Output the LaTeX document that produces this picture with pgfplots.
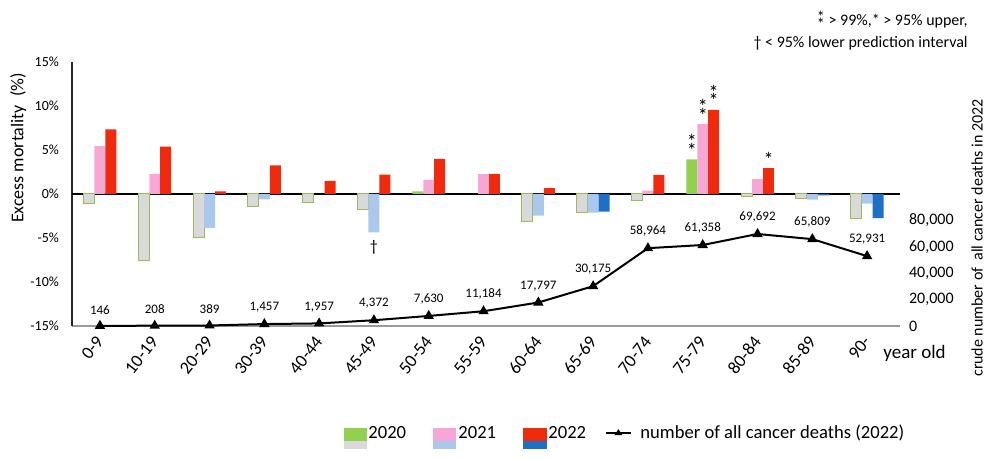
\documentclass[border=0pt]{standalone}
\usepackage{fontspec}
\setmainfont{Carlito}
\usepackage{pgfplots}
\pgfplotsset{compat=1.18}
\definecolor{cgreen}{HTML}{92D050}
\definecolor{cgray}{HTML}{D9D9D9}
\definecolor{cgrayedge}{HTML}{9BBB59}
\definecolor{cpink}{HTML}{F6A7D6}
\definecolor{clblue}{HTML}{A9C8EC}
\definecolor{cred}{HTML}{F02A0C}
\definecolor{cdblue}{HTML}{1F6FC6}
\newcommand{\dstar}{\rlap{\raisebox{0.3ex}{*}}\raisebox{-0.6ex}{*}}
\newcommand{\fs}[1]{\fontsize{#1}{#1}\selectfont}
\begin{document}
\begin{tikzpicture}
\path[use as bounding box] (-36pt,-66.5pt) rectangle (464pt,163pt);
\begin{axis}[
  at={(0,0)}, anchor=south west,
  width=414pt, height=132pt, scale only axis,
  xmin=-0.51, xmax=14.6, ymin=-15, ymax=15,
  ybar, bar width=0.2,
  axis x line*=bottom, axis y line*=left,
  x axis line style={draw=black!40, line width=0.7pt},
  y axis line style={black!85, line width=0.6pt},
  xtick={0,...,14},
  xticklabels={0-9,10-19,20-29,30-39,40-44,45-49,50-54,55-59,60-64,65-69,70-74,75-79,80-84,85-89,90-},
  xticklabel style={xshift=2pt, yshift=-3.5pt, rotate=52, anchor=east, font=\fs{9}},
  ytick={-15,-10,...,15},
  yticklabel={\pgfmathprintnumber{\tick}\%},
  yticklabel style={font=\fs{7}, xshift=-3pt},
  major tick length=0pt,
  /pgf/number format/assume math mode=true,
  ylabel={Excess mortality\ \ (\%)},
  ylabel style={at={(axis description cs:-0.065,0.674)}, anchor=center, font=\fs{9}},
  extra y ticks={0}, extra y tick labels={},
  extra y tick style={grid=major, major grid style={black, line width=0.8pt}},
  clip=false,
]
% 2020
\addplot[fill=cgreen, draw=none, bar shift=-0.2] coordinates {(6,0.3) (11,3.94)};
\addplot[fill=cgray, draw=cgrayedge, line width=0.5pt, bar shift=-0.2] coordinates {
 (0,-1.06) (1,-7.6) (2,-4.9) (3,-1.4) (4,-1.0) (5,-1.74) (8,-3.07) (9,-2.12) (10,-0.7) (12,-0.23) (13,-0.5) (14,-2.73)};
% 2021
\addplot[fill=cpink, draw=none, bar shift=0] coordinates {
 (0,5.45) (1,2.27) (6,1.6) (7,2.27) (10,0.38) (11,7.95) (12,1.7)};
\addplot[fill=clblue, draw=none, bar shift=0] coordinates {
 (2,-3.86) (3,-0.6) (5,-4.36) (8,-2.46) (9,-2.12) (13,-0.64) (14,-1.1)};
% 2022
\addplot[fill=cred, draw=none, bar shift=0.2] coordinates {
 (0,7.35) (1,5.38) (2,0.3) (3,3.26) (4,1.5) (5,2.2) (6,3.98) (7,2.27) (8,0.68) (10,2.16) (11,9.55) (12,2.95)};
\addplot[fill=cdblue, draw=none, bar shift=0.2] coordinates {
 (9,-2.0) (13,-0.15) (14,-2.73)};
% significance marks
\addplot[draw=none, fill=none, bar shift=-0.2, point meta=explicit symbolic,
  nodes near coords, nodes near coords style={font=\fs{10}, inner sep=0.8pt}] coordinates {(11,3.94)[\dstar]};
\addplot[draw=none, fill=none, bar shift=0, point meta=explicit symbolic,
  nodes near coords, nodes near coords style={font=\fs{10}, inner sep=0.8pt}] coordinates {(11,7.95)[\dstar]};
\addplot[draw=none, fill=none, bar shift=0, point meta=explicit symbolic,
  nodes near coords, nodes near coords style={font=\fs{8}, anchor=north, inner sep=4pt}] coordinates {(5,-4.36)[†]};
\addplot[draw=none, fill=none, bar shift=0.2, point meta=explicit symbolic,
  nodes near coords, nodes near coords style={font=\fs{10}, inner sep=0.8pt}] coordinates {(11,9.55)[\dstar] (12,2.95)[*]};
\end{axis}
\begin{axis}[
  at={(0,0)}, anchor=south west,
  width=414pt, height=132pt, scale only axis,
  xmin=-0.51, xmax=14.6, ymin=0, ymax=200000,
  axis x line=none, axis y line*=right,
  y axis line style={draw=none},
  ytick={0,20000,40000,60000,80000}, scaled y ticks=false,
  major tick length=0pt,
  /pgf/number format/.cd, fixed, precision=0, 1000 sep={,}, assume math mode=true,
  /pgfplots/.cd,
  yticklabel style={font=\fs{8}, xshift=1pt},
  ylabel={crude number of\ \ all cancer deaths in 2022},
  ylabel style={at={(axis description cs:1.093,0.333)}, anchor=center, rotate=0, font=\fs{8}},
  clip=false,
]
\addplot[black, line width=1pt, mark=triangle*, mark size=2pt,
  nodes near coords, point meta=y,
  nodes near coords style={font=\fs{6.5}, yshift=2pt, black}] coordinates {
 (0,146) (1,208) (2,389) (3,1457) (4,1957) (5,4372) (6,7630) (7,11184)
 (8,17797) (9,30175) (10,58964) (11,61358) (12,69692) (13,65809) (14,52931)};
\end{axis}
% x unit label
\node[anchor=west, inner sep=0, font=\fs{9.5}] at (405.5pt,-13.5pt) {year old};
% note
\node[anchor=north east, align=right, inner sep=0, font=\fontsize{8}{11}\selectfont] at (448pt,157.5pt)
 {\dstar{} > 99\%,* > 95\% upper,\\ † < 95\% lower prediction interval};
% legend
\fill[cgreen] (136pt,-51pt) rectangle (147.5pt,-57.5pt);
\fill[cgray] (136pt,-57.5pt) rectangle (147.5pt,-61.5pt);
\node[anchor=west, inner sep=0, font=\fs{9.3}] at (148pt,-53.5pt) {2020};
\fill[cpink] (180.5pt,-51pt) rectangle (192pt,-57.5pt);
\fill[clblue] (180.5pt,-57.5pt) rectangle (192pt,-61.5pt);
\node[anchor=west, inner sep=0, font=\fs{9.3}] at (193pt,-53.5pt) {2021};
\fill[cred] (225.5pt,-51pt) rectangle (237.5pt,-57.5pt);
\fill[cdblue] (225.5pt,-57.5pt) rectangle (237.5pt,-61.5pt);
\node[anchor=west, inner sep=0, font=\fs{9.3}] at (238pt,-53.5pt) {2022};
\draw[black, line width=0.8pt] (267pt,-53.5pt) -- (279.5pt,-53.5pt);
\fill[black] (271.2pt,-54.6pt) -- (275.2pt,-54.6pt) -- (273.2pt,-51.6pt) -- cycle;
\node[anchor=west, inner sep=0, font=\fs{9.3}] at (284pt,-53.5pt) {number of all cancer deaths (2022)};
\end{tikzpicture}
\end{document}
